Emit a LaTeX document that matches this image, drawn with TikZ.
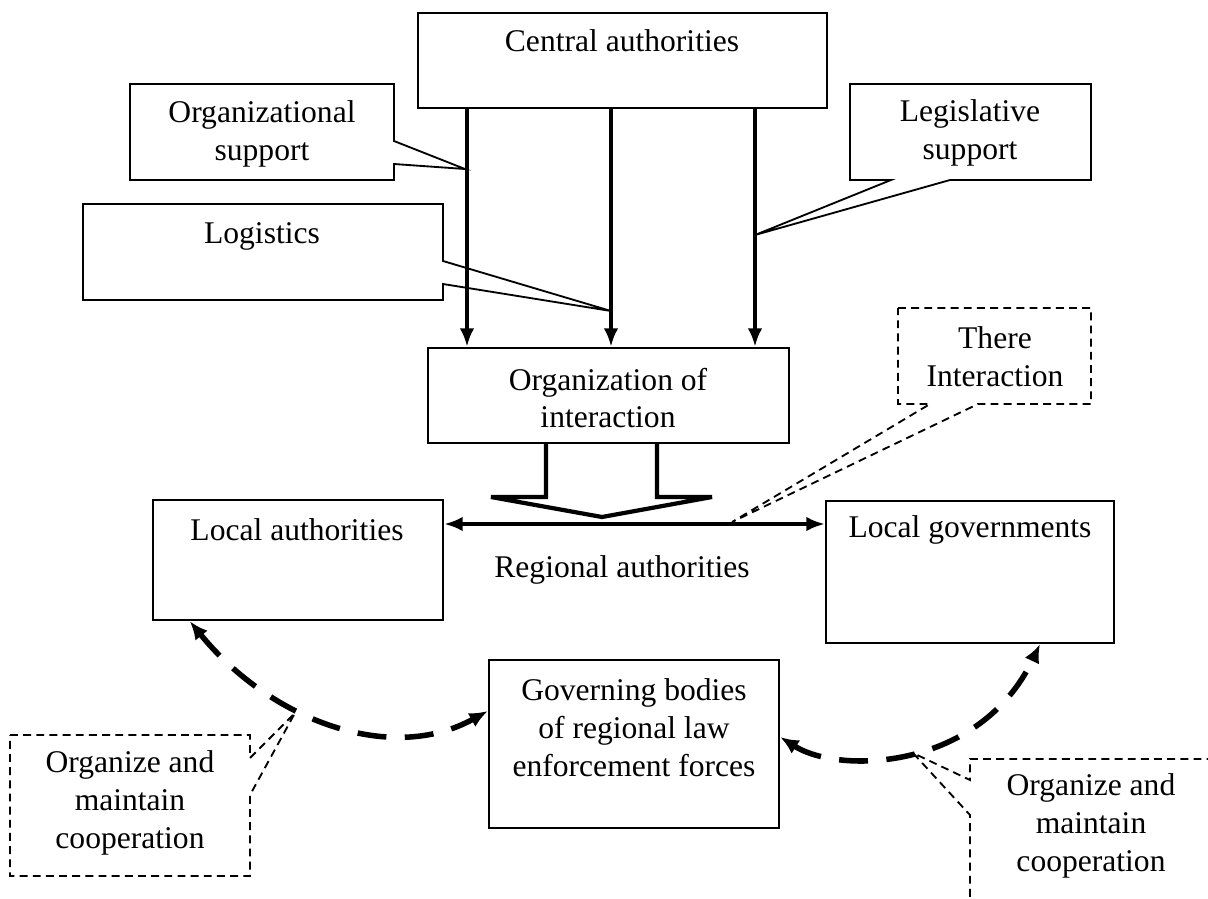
\documentclass[tikz,border=0pt]{standalone}
\usepackage{fontspec}
\setmainfont{Liberation Serif}
\usetikzlibrary{fit,calc,arrows.meta}

\begin{document}
\begin{tikzpicture}[x=0.38pt,y=-0.38pt,font=\fontsize{12}{14.4}\selectfont,
   >={Latex[length=7pt,width=5.5pt]},
   box/.style={draw,line width=.9pt,inner sep=0pt},
   lbl/.style={align=center,inner sep=0pt},
   call/.style={line width=.7pt},
   dcall/.style={line width=.7pt,dash pattern=on 3pt off 2pt},
   coop/.style={line width=2.1pt,dash pattern=on 11pt off 7pt,
        {Latex[length=7pt,width=6pt]}-{Latex[length=7pt,width=6pt]}}]
  \useasboundingbox (0,0) rectangle (1208,898);
  \clip (0,0) rectangle (1208,898);
   \coordinate (ColA) at (467,0);
   \coordinate (ColB) at (611,0);
   \coordinate (ColC) at (755,0);
   \coordinate (MidRow) at (0,524);
  % boxes
  \node[box,line width=1.1pt,fit={(418,13) (827,108)}] (Central) {};
  \node[box,fit={(428,348) (789,443)}] (OrgInter) {};
  \node[box,fit={(153,500) (443,620)}] (LocalAuth) {};
  \node[box,fit={(826,501) (1114,643)}] (LocalGov) {};
  \node[box,fit={(489,660) (779,828)}] (Governing) {};
  \node[lbl] (CentralTxt) at (622,41) {Central authorities};
  \node[lbl] (OrgInterTxt) at (608,398) {Organization of\\interaction};
  \node[lbl] (LocalAuthTxt) at (297,530) {Local authorities};
  \node[lbl] (LocalGovTxt) at (970,530) {Local governments};
  \node[lbl] (GoverningTxt) at (634,728) {Governing bodies\\of regional law\\enforcement forces};
  \node[lbl] (Regional) at (622,570) {Regional authorities};
  % callouts
  \draw[call] (130,84) -- (394,84) -- (394,141) -- (465,169) -- (394,164) -- (394,180) -- (130,180) -- cycle;
  \node[lbl] (OrgSupport) at (262,134) {Organizational\\support};
  \draw[call] (83,204) -- (443,204) -- (443,261) -- (611,311) -- (443,284) -- (443,300) -- (83,300) -- cycle;
  \node[lbl] (Logistics) at (262,236) {Logistics};
  \draw[call] (850,84) -- (1091,84) -- (1091,180) -- (950,180) -- (755,235) -- (891,180) -- (850,180) -- cycle;
  \node[lbl] (LegSupport) at (970,133) {Legislative\\support};
  \draw[dcall] (898,308) -- (1091,308) -- (1091,404) -- (978,404) -- (732,522) -- (930,404) -- (898,404) -- cycle;
  \node[lbl] (There) at (995,357) {There\\Interaction};
  \draw[dcall] (10,735) -- (250,735) -- (250,758) -- (295,713) -- (250,795) -- (250,876) -- (10,876) -- cycle;
  \node[lbl] (CoopLeft) at (130,803) {Organize and\\maintain\\cooperation};
  \draw[dcall] (970,910) -- (970,815) -- (913,753) -- (970,780) -- (970,759) -- (1220,759);
  \node[lbl] (CoopRight) at (1091,826) {Organize and\\maintain\\cooperation};
  % arrows down
  \foreach \c in {ColA,ColB,ColC}
    \draw[line width=1.4pt,->] (Central.south -| \c) -- (OrgInter.north -| \c);
  \draw[line width=1.6pt,line join=miter] (546,443) -- (546,497) -- (491,497) -- (602,517)
     -- (712,497) -- (657,497) -- (657,443);
  \draw[line width=1.3pt,<->] (LocalAuth.east |- MidRow) -- (LocalGov.west |- MidRow);
  % cooperation
  \draw[coop] ($(LocalAuth.south west)+(38,0)$) .. controls (270,720) and (390,765) .. ($(Governing.west)+(0,-33)$);
  \draw[coop] ($(Governing.east)+(0,-7)$) .. controls (840,775) and (980,770) .. ($(LocalGov.south)+(70,0)$);
 \end{tikzpicture}
\end{document}
